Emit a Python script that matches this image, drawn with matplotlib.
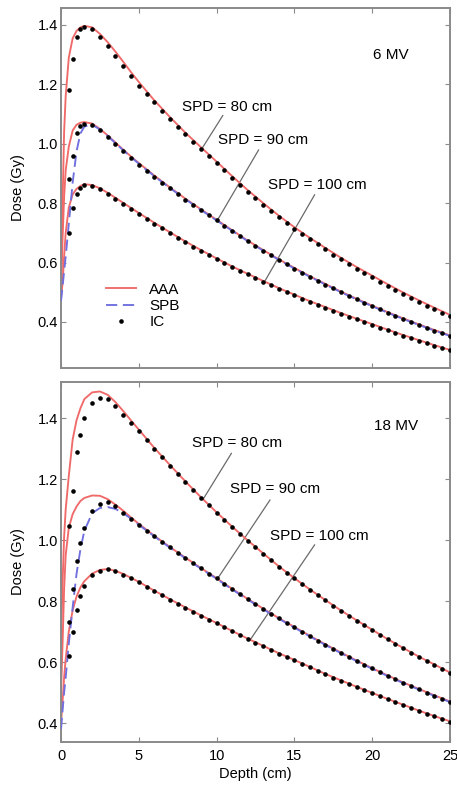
import numpy as np
import matplotlib
matplotlib.use("Agg")
import matplotlib.pyplot as plt
from matplotlib.lines import Line2D

plt.rcParams['font.family'] = ['Liberation Sans', 'DejaVu Sans']

# depths (cm) of the ion-chamber readings and of the calculated curves
IC_DEPTH = [0.5, 0.75, 1.0, 1.25, 1.5] + list(np.arange(2.0, 25.01, 0.5))
CALC_DEPTH = [0, 0.1, 0.2, 0.3, 0.5, 0.75, 1.0, 1.25, 1.5, 2.0, 2.5, 3.0, 3.5, 4.0, 4.5] + list(range(5, 26))

# 6 MV
AAA_6_80 = [0.52, 0.80, 1.04, 1.16, 1.29, 1.355, 1.38, 1.392, 1.397, 1.392, 1.37, 1.342, 1.31, 1.276, 1.241,
            1.208, 1.146, 1.09, 1.037, 0.988, 0.94, 0.891, 0.844, 0.80, 0.758, 0.719, 0.683, 0.649, 0.616,
            0.585, 0.556, 0.527, 0.499, 0.473, 0.448, 0.424]
AAA_6_90 = [0.50, 0.68, 0.82, 0.91, 0.99, 1.045, 1.064, 1.071, 1.073, 1.068, 1.05, 1.028, 1.004, 0.98, 0.957,
            0.935, 0.893, 0.853, 0.815, 0.779, 0.744, 0.709, 0.674, 0.642, 0.611, 0.582, 0.554, 0.528, 0.502,
            0.478, 0.455, 0.433, 0.412, 0.392, 0.373, 0.355]
SPB_6_90 = [0.47, 0.52, 0.57, 0.62, 0.73, 0.87, 0.975, 1.035, 1.058, 1.064, 1.048, 1.026, 1.002, 0.978, 0.955,
            0.933, 0.891, 0.851, 0.813, 0.777, 0.742, 0.707, 0.672, 0.640, 0.609, 0.580, 0.552, 0.526, 0.500,
            0.476, 0.453, 0.431, 0.410, 0.390, 0.371, 0.353]
AAA_6_100 = [0.48, 0.53, 0.62, 0.70, 0.785, 0.83, 0.848, 0.858, 0.864, 0.861, 0.85, 0.835, 0.818, 0.801, 0.784,
             0.767, 0.734, 0.702, 0.671, 0.642, 0.614, 0.587, 0.562, 0.538, 0.514, 0.492, 0.47, 0.45, 0.43,
             0.411, 0.393, 0.374, 0.356, 0.339, 0.322, 0.306]
IC_6_80 = [1.18, 1.285, 1.36, 1.385, 1.392, 1.385, 1.36, 1.33, 1.295, 1.262, 1.228, 1.196, 1.167, 1.139, 1.111,
           1.084, 1.058, 1.032, 1.007, 0.983, 0.959, 0.935, 0.910, 0.886, 0.862, 0.839, 0.817, 0.795, 0.774,
           0.753, 0.733, 0.714, 0.696, 0.678, 0.661, 0.644, 0.627, 0.611, 0.595, 0.580, 0.565, 0.551, 0.536,
           0.522, 0.508, 0.494, 0.481, 0.468, 0.455, 0.443, 0.431, 0.419]
IC_6_90 = [0.88, 0.96, 1.035, 1.06, 1.068, 1.062, 1.045, 1.022, 0.998, 0.974, 0.952, 0.93, 0.909, 0.889, 0.869,
           0.850, 0.831, 0.812, 0.794, 0.776, 0.759, 0.742, 0.724, 0.706, 0.689, 0.672, 0.656, 0.640, 0.624,
           0.609, 0.594, 0.580, 0.566, 0.552, 0.539, 0.526, 0.513, 0.500, 0.488, 0.476, 0.464, 0.453, 0.442,
           0.431, 0.420, 0.410, 0.400, 0.390, 0.380, 0.371, 0.362, 0.353]
IC_6_100 = [0.70, 0.785, 0.83, 0.852, 0.862, 0.858, 0.846, 0.831, 0.815, 0.798, 0.781, 0.764, 0.747, 0.731,
            0.715, 0.699, 0.684, 0.669, 0.654, 0.640, 0.626, 0.612, 0.599, 0.585, 0.573, 0.560, 0.548, 0.536,
            0.524, 0.512, 0.501, 0.490, 0.479, 0.468, 0.458, 0.448, 0.438, 0.428, 0.418, 0.409, 0.400, 0.391,
            0.381, 0.372, 0.363, 0.354, 0.345, 0.336, 0.328, 0.320, 0.312, 0.304]

# 18 MV
AAA_18_80 = [0.66, 0.86, 1.01, 1.10, 1.21, 1.33, 1.393, 1.432, 1.462, 1.484, 1.487, 1.476, 1.452, 1.423, 1.392,
             1.362, 1.302, 1.246, 1.192, 1.14, 1.091, 1.044, 0.999, 0.956, 0.914, 0.875, 0.838, 0.803, 0.769,
             0.737, 0.706, 0.675, 0.646, 0.618, 0.592, 0.566]
AAA_18_90 = [0.50, 0.66, 0.84, 0.95, 1.04, 1.085, 1.11, 1.128, 1.138, 1.146, 1.145, 1.134, 1.116, 1.096, 1.074,
             1.053, 1.014, 0.977, 0.942, 0.908, 0.875, 0.84, 0.807, 0.775, 0.744, 0.715, 0.686, 0.658, 0.631,
             0.605, 0.58, 0.556, 0.533, 0.512, 0.491, 0.471]
SPB_18_90 = [0.38, 0.44, 0.50, 0.55, 0.66, 0.78, 0.89, 0.97, 1.03, 1.088, 1.105, 1.108, 1.102, 1.088, 1.07,
             1.05, 1.012, 0.975, 0.94, 0.906, 0.873, 0.838, 0.805, 0.773, 0.742, 0.713, 0.684, 0.656, 0.629,
             0.603, 0.578, 0.554, 0.531, 0.51, 0.489, 0.469]
AAA_18_100 = [0.40, 0.47, 0.55, 0.61, 0.70, 0.77, 0.815, 0.845, 0.865, 0.89, 0.902, 0.905, 0.899, 0.889, 0.876,
              0.863, 0.834, 0.806, 0.779, 0.753, 0.728, 0.702, 0.677, 0.653, 0.629, 0.607, 0.584, 0.561, 0.54,
              0.519, 0.499, 0.479, 0.46, 0.441, 0.423, 0.406]
IC_18_80 = [1.045, 1.16, 1.29, 1.345, 1.40, 1.45, 1.465, 1.462, 1.438, 1.41, 1.384, 1.358, 1.328, 1.300, 1.271,
            1.244, 1.217, 1.190, 1.164, 1.139, 1.114, 1.090, 1.066, 1.043, 1.020, 0.998, 0.976, 0.955, 0.934,
            0.913, 0.893, 0.874, 0.855, 0.837, 0.819, 0.802, 0.785, 0.768, 0.752, 0.736, 0.720, 0.705, 0.690,
            0.674, 0.660, 0.645, 0.631, 0.617, 0.604, 0.591, 0.578, 0.565]
IC_18_90 = [0.73, 0.84, 0.93, 0.99, 1.04, 1.095, 1.118, 1.124, 1.11, 1.09, 1.07, 1.05, 1.031, 1.012, 0.994,
            0.976, 0.958, 0.941, 0.924, 0.907, 0.890, 0.874, 0.857, 0.839, 0.823, 0.806, 0.790, 0.774, 0.759,
            0.743, 0.728, 0.714, 0.699, 0.685, 0.670, 0.657, 0.643, 0.630, 0.617, 0.604, 0.591, 0.579, 0.567,
            0.555, 0.544, 0.532, 0.521, 0.511, 0.500, 0.490, 0.480, 0.470]
IC_18_100 = [0.62, 0.70, 0.77, 0.815, 0.848, 0.884, 0.90, 0.904, 0.897, 0.886, 0.874, 0.862, 0.847, 0.833,
             0.819, 0.805, 0.791, 0.778, 0.765, 0.752, 0.739, 0.727, 0.714, 0.701, 0.688, 0.676, 0.664, 0.652,
             0.640, 0.628, 0.617, 0.606, 0.594, 0.583, 0.571, 0.560, 0.549, 0.539, 0.528, 0.518, 0.508, 0.498,
             0.488, 0.478, 0.468, 0.459, 0.449, 0.440, 0.431, 0.422, 0.414, 0.405]

RED = '#f06a6a'
BLUE = '#6f6fe0'
GRAY = '#8a8a8a'
DASH = (0, (6, 3))

fig = plt.figure(figsize=(4.57, 7.87), dpi=100)
ax_top = fig.add_axes([0.1335, 0.5324, 0.851, 0.4574])
ax_bot = fig.add_axes([0.1335, 0.0572, 0.851, 0.4574])


def draw_panel(ax, aaa, spb, ic):
    for curve in aaa:
        ax.plot(CALC_DEPTH, curve, color=RED, lw=1.35, zorder=2)
    ax.plot(CALC_DEPTH, spb, color=BLUE, lw=1.35, ls=DASH, zorder=3)
    for pts in ic:
        ax.plot(IC_DEPTH, pts, 'o', color='black', ms=3.3, mew=0, zorder=4)
    ax.set_xlim(0, 25)
    ax.set_xticks([0, 5, 10, 15, 20, 25])
    ax.set_yticks([0.4, 0.6, 0.8, 1.0, 1.2, 1.4])
    ax.set_yticklabels(['0.4', '0.6', '0.8', '1.0', '1.2', '1.4'])
    ax.tick_params(direction='in', top=True, right=True, length=3.5, width=0.8,
                   color=GRAY, labelsize=10.5, pad=2)
    ax.tick_params(axis='x', pad=5)
    for s in ax.spines.values():
        s.set_color(GRAY)
        s.set_linewidth(1.4)
    ax.set_ylabel('Dose (Gy)', fontsize=10.5, labelpad=9)


def leader(ax, label, text_xy, start, end):
    ax.text(text_xy[0], text_xy[1], label, fontsize=11, va='center', ha='left')
    ax.plot([start[0], end[0]], [start[1], end[1]], color='#6a6a6a', lw=0.9, zorder=1)


draw_panel(ax_top, [AAA_6_80, AAA_6_90, AAA_6_100], SPB_6_90, [IC_6_80, IC_6_90, IC_6_100])
ax_top.set_ylim(0.245, 1.457)
ax_top.set_xticklabels([])
ax_top.text(20.05, 1.299, '6 MV', fontsize=11, va='center')
leader(ax_top, 'SPD = 80 cm', (7.75, 1.124), (10.4, 1.095), (9.05, 0.983))
leader(ax_top, 'SPD = 90 cm', (10.1, 1.013), (12.7, 0.979), (10.07, 0.744))
leader(ax_top, 'SPD = 100 cm', (13.3, 0.861), (16.3, 0.828), (13.1, 0.537))

handles = [Line2D([], [], color=RED, lw=1.35),
           Line2D([], [], color=BLUE, lw=1.35, ls=DASH),
           Line2D([], [], marker='o', ls='none', color='black', ms=3.3, mew=0)]
ax_top.legend(handles, ['AAA', 'SPB', 'IC'], loc='upper left', bbox_to_anchor=(0.115, 0.237),
              frameon=False, fontsize=11, handlelength=2.0, handletextpad=0.85,
              labelspacing=0.15, borderaxespad=0, borderpad=0)

draw_panel(ax_bot, [AAA_18_80, AAA_18_90, AAA_18_100], SPB_18_90, [IC_18_80, IC_18_90, IC_18_100])
ax_bot.set_ylim(0.338, 1.518)
ax_bot.set_xticklabels(['0', '5', '10', '15', '20', '25'])
ax_bot.set_xlabel('Depth (cm)', fontsize=10.5, labelpad=3)
ax_bot.text(20.15, 1.374, '18 MV', fontsize=11, va='center')
leader(ax_bot, 'SPD = 80 cm', (8.45, 1.318), (10.95, 1.284), (9.15, 1.135))
leader(ax_bot, 'SPD = 90 cm', (10.85, 1.167), (13.43, 1.131), (10.07, 0.874))
leader(ax_bot, 'SPD = 100 cm', (13.45, 1.013), (16.3, 0.984), (12.15, 0.672))

fig.savefig('out.png', dpi=100)
